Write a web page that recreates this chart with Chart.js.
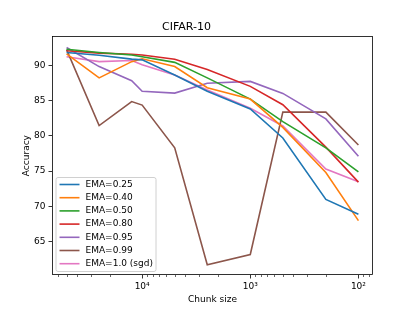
<!DOCTYPE html>
<html>
<head>
<meta charset="utf-8">
<script src="https://cdn.jsdelivr.net/npm/chart.js@4.4.1/dist/chart.umd.min.js"></script>
<style>
  body { margin: 0; background: #fff; }
</style>
</head>
<body>
<canvas id="chart" width="415" height="311"></canvas>
<script>
// valores
const chunkSizes = [50000, 25000, 12500, 10000, 5000, 2500, 1000, 500, 200, 100];
const ema025 = [91.8, 91.4, 90.85, 90.75, 88.6, 86.3, 83.8, 79.7, 71.0, 68.9];
const ema040 = [91.6, 88.2, 90.5, 90.9, 89.8, 86.8, 85.2, 81.2, 74.8, 68.0];
const ema050 = [92.25, 91.8, 91.45, 91.2, 90.4, 88.2, 85.2, 82.0, 78.3, 74.9];
const ema080 = [92.05, 91.7, 91.55, 91.45, 90.85, 89.4, 87.0, 84.4, 78.4, 73.45];
const ema095 = [92.5, 89.8, 87.8, 86.3, 86.05, 87.45, 87.7, 86.0, 82.4, 77.1];
const ema099 = [92.2, 81.45, 84.85, 84.35, 78.3, 61.75, 63.2, 83.35, 83.35, 78.7];
const emaSgd = [91.2, 90.5, 90.65, 90.05, 88.6, 86.5, 83.9, 81.4, 75.3, 73.5];

const seriesLabels = ['EMA=0.25', 'EMA=0.40', 'EMA=0.50', 'EMA=0.80', 'EMA=0.95', 'EMA=0.99', 'EMA=1.0 (sgd)'];
const seriesData = [ema025, ema040, ema050, ema080, ema095, ema099, emaSgd];
const colores = ['#1f77b4', '#ff7f0e', '#2ca02c', '#d62728', '#9467bd', '#8c564b', '#e377c2'];

const xTicks = [10000, 1000, 100];
const xTickLabels = ['10⁴', '10³', '10²'];
const yTicks = [65, 70, 75, 80, 85, 90];

const FONT = 'DejaVu Sans';

// marco, ticks menores y leyenda dentro del area
const extrasPlugin = {
    id: 'extras',
    afterDraw(chart) {
        const ctx = chart.ctx;
        const area = chart.chartArea;
        const xs = chart.scales.x;

        // ticks menores del eje log
        ctx.save();
        ctx.strokeStyle = '#000';
        ctx.lineWidth = 0.6;
        for (let e = 1; e <= 4; e++) {
            for (let m = 2; m <= 9; m++) {
                const v = m * Math.pow(10, e);
                if (v < xs.min || v > xs.max) continue;
                const px = Math.round(xs.getPixelForValue(v)) + 0.5;
                ctx.beginPath();
                ctx.moveTo(px, area.bottom);
                ctx.lineTo(px, area.bottom + 2);
                ctx.stroke();
            }
        }

        // marco completo
        ctx.lineWidth = 0.8;
        ctx.strokeRect(Math.round(area.left) + 0.5, Math.round(area.top) + 0.5,
            Math.round(area.right - area.left) - 1, Math.round(area.bottom - area.top) - 1);

        // leyenda
        const bx = area.left + 3.5, bw = 100, bh = 94;
        const by = area.bottom - 4 - bh;
        ctx.fillStyle = 'rgba(255,255,255,0.85)';
        ctx.strokeStyle = '#d0d0d0';
        ctx.lineWidth = 1;
        ctx.beginPath();
        ctx.roundRect(bx + 0.5, by + 0.5, bw, bh, 2);
        ctx.fill();
        ctx.stroke();

        ctx.font = '9px "' + FONT + '"';
        ctx.textBaseline = 'middle';
        ctx.textAlign = 'left';
        chart.data.datasets.forEach((ds, i) => {
            const yy = by + 7.5 + i * 13.2;
            ctx.strokeStyle = ds.borderColor;
            ctx.lineWidth = 1.6;
            ctx.beginPath();
            ctx.moveTo(bx + 4, yy);
            ctx.lineTo(bx + 24, yy);
            ctx.stroke();
            ctx.fillStyle = '#000';
            ctx.fillText(ds.label, bx + 30, yy);
        });
        ctx.restore();
    }
};

const chart = new Chart(document.getElementById('chart'), {
    type: 'line',
    data: {
        labels: chunkSizes,
        datasets: seriesLabels.map((lbl, i) => ({
            label: lbl,
            data: seriesData[i].map((v, j) => ({ x: chunkSizes[j], y: v })),
            borderColor: colores[i],
            backgroundColor: colores[i],
            borderWidth: 1.6,
            pointRadius: 0,
            tension: 0,
            fill: false
        }))
    },
    options: {
        responsive: false,
        animation: false,
        devicePixelRatio: 1,
        layout: { padding: { left: 0, right: 42, top: 0, bottom: 0 } },
        plugins: {
            legend: { display: false },
            tooltip: { enabled: false },
            title: {
                display: true,
                text: 'CIFAR-10',
                color: '#000',
                font: { family: FONT, size: 11, weight: 'normal' },
                padding: { top: 21, bottom: 2 }
            }
        },
        scales: {
            x: {
                type: 'logarithmic',
                reverse: true,
                min: 73.3,
                max: 68200,
                afterBuildTicks: scale => { scale.ticks = xTicks.map(v => ({ value: v })); },
                afterFit: scale => { scale.height = 36; },
                grid: { drawOnChartArea: false, drawTicks: true, tickLength: 3.5, tickColor: '#000', tickWidth: 0.8 },
                border: { display: false },
                ticks: {
                    autoSkip: false,
                    maxRotation: 0,
                    padding: 3,
                    color: '#000',
                    font: { family: FONT, size: 9 },
                    callback: (value) => {
                        const k = xTicks.indexOf(value);
                        return k >= 0 ? xTickLabels[k] : '';
                    }
                },
                title: {
                    display: true,
                    text: 'Chunk size',
                    color: '#000',
                    font: { family: FONT, size: 9 },
                    padding: { top: 0, bottom: 6 }
                }
            },
            y: {
                type: 'linear',
                min: 60.3,
                max: 94.1,
                afterBuildTicks: scale => { scale.ticks = yTicks.map(v => ({ value: v })); },
                afterFit: scale => { scale.width = 52; },
                grid: { drawOnChartArea: false, drawTicks: true, tickLength: 3.5, tickColor: '#000', tickWidth: 0.8 },
                border: { display: false },
                ticks: {
                    padding: 3,
                    color: '#000',
                    font: { family: FONT, size: 9 }
                },
                title: {
                    display: true,
                    text: 'Accuracy',
                    color: '#000',
                    font: { family: FONT, size: 9 },
                    padding: { top: 21, bottom: 0 }
                }
            }
        }
    },
    plugins: [extrasPlugin]
});
</script>
</body>
</html>
